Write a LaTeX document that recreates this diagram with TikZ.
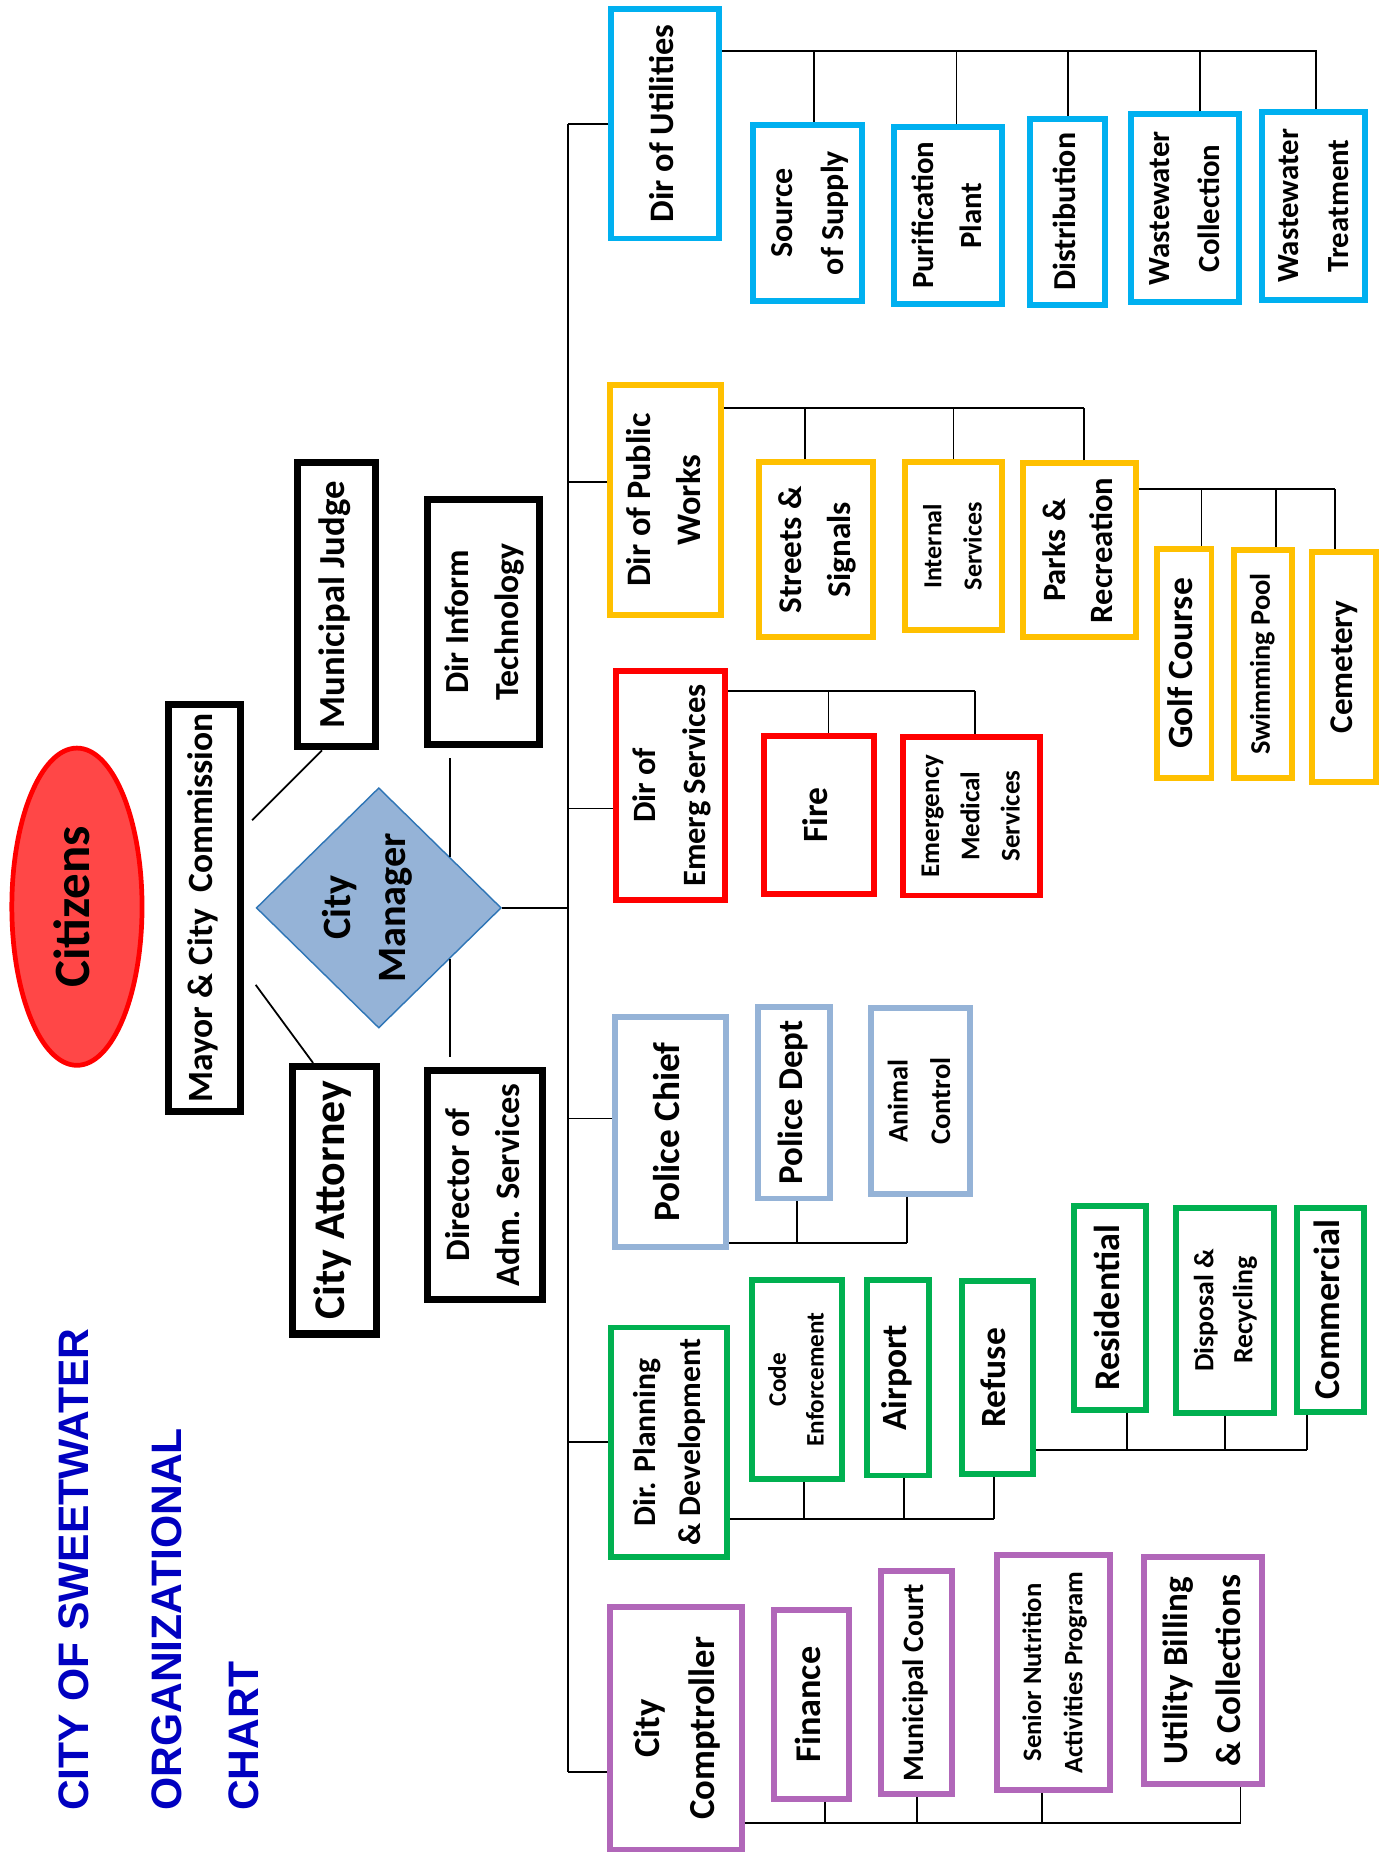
\documentclass[tikz,border=0pt]{standalone}
\usepackage{fontspec}
\setmainfont{Carlito}
\newfontfamily\titlefont{Liberation Sans}
\usepackage{graphicx}
\usetikzlibrary{shapes.geometric}

\definecolor{utilblue}{HTML}{00B0F0}
\definecolor{workgold}{HTML}{FFC000}
\definecolor{emergred}{HTML}{FF0000}
\definecolor{policeblue}{HTML}{95B3D7}
\definecolor{plangreen}{HTML}{00B050}
\definecolor{comppurple}{HTML}{B167B9}
\definecolor{titleblue}{HTML}{0000C0}
\definecolor{citizenfill}{HTML}{FF4747}
\definecolor{managerline}{HTML}{2E75B6}

\newcommand{\vlab}[3]{\rotatebox{90}{\fontsize{#1}{#2}\selectfont\begin{tabular}{@{}c@{}}#3\end{tabular}}}

\tikzset{
  chief/.style={draw, line width=6pt, fill=white, inner sep=0pt, font=\bfseries},
  unit/.style={draw=#1, line width=5pt, fill=white, inner sep=0pt, font=\bfseries},
  link/.style={line width=1.5pt},
  heading/.style={font=\titlefont\bfseries, text=titleblue, anchor=south, inner sep=0pt},
}

\begin{document}
\begin{tikzpicture}[x=1pt, y=-1pt]
  \fill[white] (0,0) rectangle (1171,1568);
  \useasboundingbox (0,0) rectangle (1171,1568);

  % title
  \node[heading] (title1) at (62,1530) {\rotatebox{90}{\fontsize{36}{36}\selectfont CITY OF SWEETWATER}};
  \node[heading] (title2) at (141,1530) {\rotatebox{90}{\fontsize{36}{36}\selectfont ORGANIZATIONAL}};
  \node[heading] (title3) at (206,1530) {\rotatebox{90}{\fontsize{36}{36}\selectfont CHART}};

  % top of the city
  \node[ellipse, draw=red, fill=citizenfill, line width=4pt, inner sep=0pt, font=\bfseries,
        minimum width=110, minimum height=268] (cit) at (65,766) {\vlab{43}{52}{Citizens}};
  \node[chief, minimum width=61, minimum height=344] (mayor) at (172.5,767) {\vlab{30}{36}{Mayor \& City~~Commission}};
  \node[chief, minimum width=66, minimum height=240] (judge) at (284,511) {\vlab{31}{37}{Municipal Judge}};
  \node[chief, minimum width=71, minimum height=226] (atty) at (282.5,1014) {\vlab{37}{44}{City Attorney}};
  \node[diamond, draw=managerline, fill=policeblue, line width=1.2pt, inner sep=-16pt, font=\bfseries,
        minimum width=207, minimum height=203] (cm) at (320,767) {\vlab{34}{47}{City\\Manager\\[20pt]}};
  \node[chief, minimum width=95, minimum height=207] (dit) at (408.5,525.5) {\vlab{28.5}{42}{Dir Inform\\Technology}};
  \node[chief, minimum width=97, minimum height=194] (das) at (409.5,1001) {\vlab{29}{42}{Director of\\Adm. Services}};

  % directors
  \node[unit=utilblue, minimum width=91, minimum height=194] (util) at (562,104.5) {\vlab{29}{35}{Dir of Utilities}};
  \node[unit=workgold, minimum width=94, minimum height=194] (pw) at (562.5,422.5) {\vlab{29}{42}{Dir of Public\\Works}};
  \node[unit=emergred, minimum width=92, minimum height=194] (em) at (566.5,663.5) {\vlab{27.5}{42}{Dir of\\Emerg Services}};
  \node[unit=policeblue, minimum width=94, minimum height=194] (pc) at (566.5,956.5) {\vlab{31.5}{38}{Police Chief}};
  \node[unit=plangreen, minimum width=98, minimum height=194] (pd) at (565.5,1218.5) {\vlab{26.7}{38}{Dir. Planning\\\& Development}};
  \node[unit=comppurple, minimum width=111, minimum height=205] (comp) at (571,1460) {\vlab{31}{46}{City\\Comptroller}};

  % utilities
  \node[unit=utilblue, minimum width=92, minimum height=149] (sos) at (682.5,180) {\vlab{27}{43}{Source\\of Supply}};
  \node[unit=utilblue, minimum width=91, minimum height=149] (pp) at (801,182) {\vlab{26}{40}{Purification\\Plant}};
  \node[unit=utilblue, minimum width=63, minimum height=157] (dist) at (902,179) {\vlab{27}{32}{Distribution}};
  \node[unit=utilblue, minimum width=91, minimum height=159] (wwc) at (1001,176) {\vlab{26}{42}{Wastewater\\Collection}};
  \node[unit=utilblue, minimum width=87, minimum height=159] (wwt) at (1110,174) {\vlab{26}{42}{Wastewater\\Treatment}};

  % public works
  \node[unit=workgold, minimum width=96, minimum height=148] (ss) at (689.5,464.5) {\vlab{28}{42}{Streets \&\\Signals}};
  \node[unit=workgold, minimum width=82, minimum height=142] (is) at (805.5,461.5) {\vlab{22}{34}{Internal\\Services}};
  \node[unit=workgold, minimum width=95, minimum height=147] (pr) at (912,465) {\vlab{27.5}{40}{Parks \&\\Recreation}};
  \node[unit=workgold, minimum width=46, minimum height=194] (gc) at (1000.5,560.5) {\vlab{30}{36}{Golf Course}};
  \node[unit=workgold, minimum width=49, minimum height=193] (sp) at (1067,561) {\vlab{24}{29}{Swimming Pool}};
  \node[unit=workgold, minimum width=54, minimum height=194] (cem) at (1135.5,563.5) {\vlab{28}{34}{Cemetery}};

  % emergency
  \node[unit=emergred, minimum width=93, minimum height=134] (fire) at (692,688.5) {\vlab{30}{36}{Fire}};
  \node[unit=emergred, minimum width=116, minimum height=134] (ems) at (820.5,689.5) {\vlab{22.8}{34}{Emergency\\Medical\\Services}};

  % police
  \node[unit=policeblue, minimum width=61, minimum height=162] (pdept) at (671,931.5) {\vlab{29.5}{35}{Police Dept}};
  \node[unit=policeblue, minimum width=84, minimum height=157] (ac) at (777.5,930) {\vlab{24}{36}{Animal\\Control}};

  % planning
  \node[unit=plangreen, minimum width=76, minimum height=168] (ce) at (673.5,1165.5) {\vlab{21.3}{32}{Code\\Enforcement}};
  \node[unit=plangreen, minimum width=52, minimum height=165] (air) at (758.5,1164) {\vlab{30}{36}{Airport}};
  \node[unit=plangreen, minimum width=60, minimum height=163] (ref) at (842.5,1164) {\vlab{30}{36}{Refuse}};
  \node[unit=plangreen, minimum width=61, minimum height=173] (res) at (938,1105) {\vlab{30.5}{37}{Residential}};
  \node[unit=plangreen, minimum width=83, minimum height=173] (dr) at (1035,1107) {\vlab{23.5}{33}{Disposal \&\\Recycling}};
  \node[unit=plangreen, minimum width=57, minimum height=172] (com) at (1124,1106.5) {\vlab{30.8}{37}{Commercial}};

  % comptroller
  \node[unit=comppurple, minimum width=64, minimum height=159] (fin) at (685.5,1440) {\vlab{30.6}{37}{Finance}};
  \node[unit=comppurple, minimum width=60, minimum height=188] (mc) at (774.5,1421.5) {\vlab{25}{30}{Municipal Court}};
  \node[unit=comppurple, minimum width=95, minimum height=199] (sn) at (890,1413) {\vlab{22.5}{35}{Senior Nutrition\\Activities Program}};
  \node[unit=comppurple, minimum width=100, minimum height=192] (ubc) at (1016.5,1411.5) {\vlab{29.6}{45}{Utility Billing\\\& Collections}};

  % links around the manager
  \draw[link] ([shift={(7,-74)}]mayor.east) -- ([shift={(-12,0)}]judge.south);
  \draw[link] ([shift={(10,65)}]mayor.east) -- ([shift={(-18,0)}]atty.north);
  \draw[link] ([shift={(8,8)}]cm.north east) -- ([shift={(8,8)}]cm.north east |- dit.south);
  \draw[link] ([shift={(8,-8)}]cm.south east) -- ([shift={(8,-8)}]cm.south east |- das.north);

  % trunk
  \coordinate (trunk) at (480,0);
  \coordinate (pwin) at (0,407);
  \coordinate (emin) at (0,683);
  \coordinate (pcin) at (0,945);
  \coordinate (compin) at (0,1497);
  \draw[link] (trunk |- util.west) -- (trunk |- compin);
  \draw[link] (cm.east) -- (cm.east -| trunk);
  \draw[link] (util.west) -- (util.west -| trunk);
  \draw[link] (pw.west |- pwin) -- (trunk |- pwin);
  \draw[link] (em.west |- emin) -- (trunk |- emin);
  \draw[link] (pc.west |- pcin) -- (trunk |- pcin);
  \draw[link] (pd.west) -- (pd.west -| trunk);
  \draw[link] (comp.west |- compin) -- (trunk |- compin);

  % bars
  \coordinate (uend) at (1113,43);
  \draw[link] (util.east |- uend) -- (uend);
  \draw[link] ([xshift=5.5pt]sos.north) |- (uend);
  \draw[link] ([xshift=7pt]pp.north) |- (uend);
  \draw[link] (dist.north) |- (uend);
  \draw[link] ([xshift=13pt]wwc.north) |- (uend);
  \draw[link] ([xshift=2pt]wwt.north) |- (uend);

  \coordinate (pwend) at (916,345);
  \draw[link] (pw.east |- pwend) -- (pwend);
  \draw[link] ([xshift=-9.5pt]ss.north) |- (pwend);
  \draw[link] (is.north) |- (pwend);
  \draw[link] ([xshift=4pt]pr.north) |- (pwend);

  \coordinate (prend) at (1128,413);
  \draw[link] (pr.east |- prend) -- (prend);
  \draw[link] ([xshift=14.5pt]gc.north) |- (prend);
  \draw[link] ([xshift=11pt]sp.north) |- (prend);
  \draw[link] ([xshift=-7.5pt]cem.north) |- (prend);

  \coordinate (emend) at (824,584);
  \draw[link] (em.east |- emend) -- (emend);
  \draw[link] ([xshift=8pt]fire.north) |- (emend);
  \draw[link] ([xshift=3.5pt]ems.north) |- (emend);

  \coordinate (pcend) at (766,1050);
  \draw[link] (pc.east |- pcend) -- (pcend);
  \draw[link] ([xshift=2pt]pdept.south) |- (pcend);
  \draw[link] ([xshift=-11.5pt]ac.south) |- (pcend);

  \coordinate (pdend) at (840,1283);
  \draw[link] (pd.east |- pdend) -- (pdend);
  \draw[link] ([xshift=5.5pt]ce.south) |- (pdend);
  \draw[link] ([xshift=5.5pt]air.south) |- (pdend);
  \draw[link] ([xshift=-2.5pt]ref.south) |- (pdend);

  \coordinate (refend) at (1104,1225);
  \draw[link] (ref.east |- refend) -- (refend);
  \draw[link] ([xshift=14pt]res.south) |- (refend);
  \draw[link] (dr.south) |- (refend);
  \draw[link] ([xshift=-20pt]com.south) |- (refend);

  \coordinate (compend) at (1048,1540);
  \draw[link] (comp.east |- compend) -- (compend);
  \draw[link] ([xshift=11.5pt]fin.south) |- (compend);
  \draw[link] (mc.south) |- (compend);
  \draw[link] ([xshift=-10pt]sn.south) |- (compend);
  \draw[link] ([xshift=31.5pt]ubc.south) |- (compend);
\end{tikzpicture}
\end{document}
